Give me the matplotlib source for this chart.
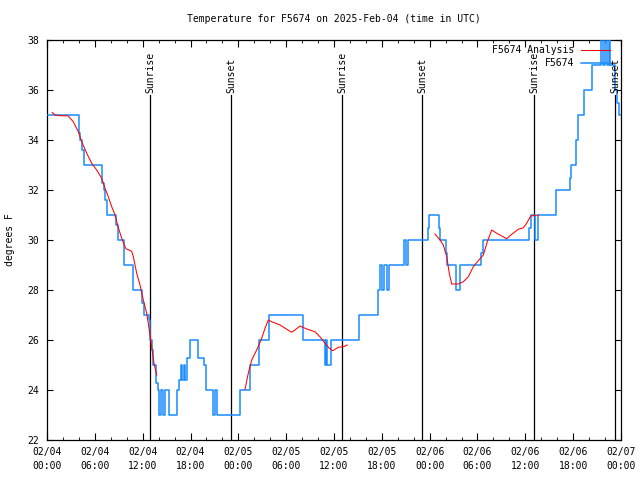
import numpy as np
import matplotlib
matplotlib.use("Agg")
import matplotlib.pyplot as plt

nan = np.nan

# station observations (hours since 2025-02-04 00:00 UTC, degrees F)
obs_hours = [0.15, 3.97, 4.2, 4.45, 4.64, 6.9, 7.1, 7.3, 7.5, 8.66, 8.95, 9.6, 10.8,
             11.95, 12.2, 12.8, 12.9, 13.15, 13.35, 13.7, 13.95, 14.05, 14.3, 14.5, 14.75,
             15.35, 16.3, 16.55, 16.75, 16.95, 17.15, 17.35, 17.55, 17.9,
             19.0, 19.7, 19.95, 20.85, 21.1, 21.35, 23.96, 24.2, 25.5, 26.6,
             27.9, 32.1, 34.85, 35.0, 35.15, 35.6, 39.1, 41.55, 41.8, 42.05, 42.3, 42.6,
             42.85, 44.8, 45.05, 45.3, 47.75, 47.9,
             49.15, 49.35, 50.0, 50.15, 51.3, 51.8, 54.5, 54.65, 60.5, 60.65, 61.15, 61.6,
             63.8, 65.55, 65.75, 66.3, 66.55, 67.3, 68.3, 69.45, 69.7, 69.95, 70.2, 70.45,
             70.6, 71.2, 71.45, 71.7, 71.95]
obs_temps = [35.0, 34.3, 34.0, 33.6, 33.0, 32.3, 32.0, 31.6, 31.0, 30.6, 30.0, 29.0, 28.0,
             27.5, 27.0, 26.8, 26.0, 25.6, 25.0, 24.3, 24.0, 23.0, 24.0, 23.0, 24.0,
             23.0, 24.0, 24.4, 25.0, 24.4, 25.0, 24.4, 25.3, 26.0,
             25.3, 25.0, 24.0, 23.0, 24.0, 23.0, 23.0, 24.0, 25.0, 26.0,
             27.0, 26.0, 25.0, 26.0, 25.0, 26.0, 27.0, 28.0, 29.0, 28.0, 29.0, 28.0,
             29.0, 30.0, 29.0, 30.0, 30.5, 31.0,
             30.5, 30.0, 29.5, 29.0, 28.0, 29.0, 29.5, 30.0, 30.5, 31.0, 30.0, 31.0,
             32.0, 32.5, 33.0, 34.0, 35.0, 36.0, 37.0, 38.3, 37.0, 38.3, 37.0, 38.3,
             37.0, 36.0, 35.5, 35.0, 35.0]

# analysis (three segments separated by gaps)
ana_hours = [0.66, 1.0, 1.63, 2.63, 3.3, 3.93, 4.35, 4.98, 5.61, 6.23, 6.86, 7.28, 7.69,
             8.12, 8.53, 8.94, 9.37, 9.78, 9.91, 10.62, 10.83, 11.25, 11.67, 12.08, 12.51,
             12.83, 13.13, 13.42, 13.76, nan,
             24.84, 25.25, 25.68, 26.3, 26.93, 27.35, 27.76, 28.19, 29.23, 30.07, 30.69,
             31.11, 31.74, 32.58, 33.62, 34.24, 34.87, 35.41, 35.84, 36.54, 37.17, 37.67, nan,
             48.67, 49.3, 49.71, 50.14, 50.46, 50.76, 51.59, 52.22, 52.85, 53.47, 54.1,
             54.73, 55.23, 55.78, 56.41, 57.04, 57.66, 58.29, 59.12, 59.75, 60.17, 60.67,
             61.63]
ana_temps = [35.1, 35.0, 34.97, 34.97, 34.73, 34.33, 33.93, 33.47, 33.07, 32.8, 32.47, 32.07, 31.73,
             31.33, 31.0, 30.5, 30.07, 29.73, 29.65, 29.55, 29.33, 28.67, 28.2, 27.6, 27.07,
             26.4, 25.73, 25.07, 24.6, nan,
             24.03, 24.67, 25.2, 25.6, 26.07, 26.47, 26.8, 26.73, 26.6, 26.43, 26.31,
             26.4, 26.56, 26.44, 26.33, 26.13, 25.87, 25.67, 25.57, 25.71, 25.73, 25.8, nan,
             30.24, 30.0, 29.8, 29.33, 28.67, 28.24, 28.24, 28.33, 28.53, 28.93, 29.17,
             29.4, 29.93, 30.4, 30.27, 30.16, 30.05, 30.23, 30.43, 30.49, 30.67, 30.96,
             31.0]

sun_hours = [12.92, 23.08, 37.0, 47.04, 61.09, 71.25]
sun_labels = ["Sunrise", "Sunset", "Sunrise", "Sunset", "Sunrise", "Sunset"]

xtick_hours = list(range(0, 73, 6))
xtick_labels = ["02/04\n00:00", "02/04\n06:00", "02/04\n12:00", "02/04\n18:00",
                "02/05\n00:00", "02/05\n06:00", "02/05\n12:00", "02/05\n18:00",
                "02/06\n00:00", "02/06\n06:00", "02/06\n12:00", "02/06\n18:00",
                "02/07\n00:00"]
ytick_values = list(range(22, 39, 2))

plt.rcParams['font.family'] = 'DejaVu Sans Mono'
plt.rcParams['font.size'] = 7

fig = plt.figure(figsize=(6.4, 4.8), dpi=100)
ax = fig.add_axes([47 / 640, 40 / 480, 574 / 640, 400 / 480])

blue = "#1a8cff"
red = "#ff0000"
ax.plot(obs_hours, obs_temps, drawstyle="steps-post", color=blue, lw=1.1, zorder=3)
ax.plot(ana_hours, ana_temps, color=red, lw=0.75, zorder=4)

# sunrise / sunset markers
for h, lab in zip(sun_hours, sun_labels):
    ax.plot([h, h], [22, 35.8], color="black", lw=0.9, zorder=2)
    ax.text(h, 35.88, lab, rotation=90, ha="center", va="bottom", fontsize=7, zorder=5)

ax.set_xlim(0, 72)
ax.set_ylim(22, 38)
ax.set_xticks(xtick_hours)
ax.set_xticklabels(xtick_labels, linespacing=1.5)
ax.set_xticks(np.arange(0, 73, 2), minor=True)
ax.set_yticks(ytick_values)
ax.tick_params(which="both", direction="in", top=True, right=True, color="black")
ax.tick_params(axis="x", which="major", length=5, pad=5)
ax.tick_params(axis="x", which="minor", length=2.5)
ax.tick_params(axis="y", which="major", length=4, pad=6)
for s in ax.spines.values():
    s.set_linewidth(0.9)

# gnuplot style key, right aligned text
ax.text(0.918, 0.975, "F5674 Analysis", transform=ax.transAxes, ha="right", va="center", zorder=6)
ax.plot([0.930, 0.981], [0.975, 0.975], transform=ax.transAxes, color=red, lw=0.75, clip_on=False, zorder=6)
ax.text(0.918, 0.9425, "F5674", transform=ax.transAxes, ha="right", va="center", zorder=6)
ax.plot([0.930, 0.981], [0.9425, 0.9425], transform=ax.transAxes, color=blue, lw=1.1, clip_on=False, zorder=6)

fig.text(334 / 640, 1 - 19 / 480, "Temperature for F5674 on 2025-Feb-04 (time in UTC)",
         ha="center", va="center", fontsize=7)
fig.text(10 / 640, 0.5, "degrees F", rotation=90, ha="center", va="center", fontsize=7)

fig.savefig("out.png", dpi=100)
